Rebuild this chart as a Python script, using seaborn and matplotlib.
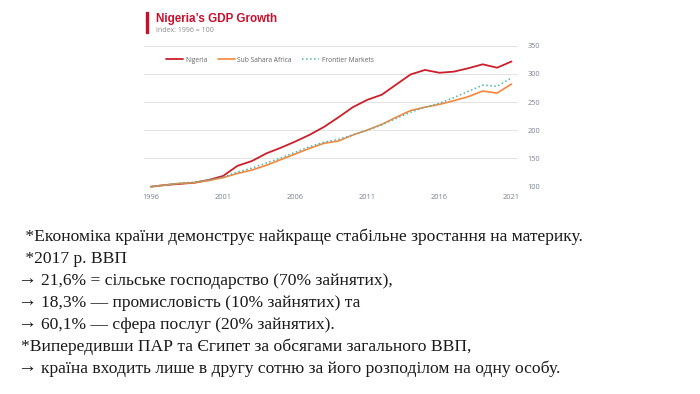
import numpy as np
import pandas as pd
import matplotlib
matplotlib.use("Agg")
import matplotlib.pyplot as plt
import seaborn as sns
from matplotlib.lines import Line2D
from matplotlib.patches import Rectangle

years = list(range(1996, 2022))
nigeria = [100, 103, 105, 107, 112, 119, 137, 145.5, 159, 169, 180, 192, 206, 223, 241,
           254, 263, 281, 299, 307, 302, 304, 310, 317, 311, 322]
ssa = [100, 103, 106, 107, 111, 116, 123.6, 129.5, 138, 148, 158, 168, 177, 181, 191.6,
       200.5, 210.5, 223, 235, 241, 246, 252.5, 259.6, 269.6, 266, 282]
frontier = [100, 103, 106, 108, 112, 117, 126, 133, 142, 151, 161, 171, 179, 184, 192,
            200, 209.5, 221, 232, 241, 248, 258, 269, 280, 278, 293]
series_names = ["Nigeria", "Sub Sahara Africa", "Frontier Markets"]
yticks = [100, 150, 200, 250, 300, 350]
xticks = [1996, 2001, 2006, 2011, 2016, 2021]

title = "Nigeria’s GDP Growth"
subtitle = "Index: 1996 = 100"
body_lines = [
    " *Економіка країни демонструє найкраще стабільне зростання на материку.",
    " *2017 р. ВВП",
    "→ 21,6% = сільське господарство (70% зайнятих),",
    "→ 18,3% — промисловість (10% зайнятих) та",
    "→ 60,1% — сфера послуг (20% зайнятих).",
    "*Випередивши ПАР та Єгипет за обсягами загального ВВП,",
    "→ країна входить лише в другу сотню за його розподілом на одну особу.",
]

df = pd.DataFrame({
    "year": years * 3,
    "value": nigeria + ssa + frontier,
    "series": [series_names[0]] * len(years) + [series_names[1]] * len(years) + [series_names[2]] * len(years),
})

sns.set_theme(style="white")
plt.rcParams["font.family"] = ["Open Sans", "DejaVu Sans"]

W, H = 700, 394
fig = plt.figure(figsize=(7.0, 3.94), dpi=100)
fig.patch.set_facecolor("white")

ax = fig.add_axes([144 / W, 1 - 186.7 / H, 374 / W, 141 / H])
ax.set_facecolor("white")

colors = {"Nigeria": "#cc1f2b", "Sub Sahara Africa": "#f5873a", "Frontier Markets": "#4db6ac"}
styles = {"Nigeria": "-", "Sub Sahara Africa": "-", "Frontier Markets": ":"}
widths = {"Nigeria": 1.3, "Sub Sahara Africa": 1.2, "Frontier Markets": 1.1}

for name in series_names:
    sub = df[df["series"] == name]
    sns.lineplot(data=sub, x="year", y="value", ax=ax, color=colors[name],
                 linestyle=styles[name], linewidth=widths[name], legend=False,
                 clip_on=False, zorder=3)

ax.set_xlim(1995.52, 2021.45)
ax.set_ylim(100, 350)
ax.set_yticks(yticks)
ax.set_xticks(xticks)
ax.yaxis.tick_right()
ax.grid(axis="y", color="#e3e3e3", linewidth=0.7)
ax.grid(axis="x", visible=False)
for s in ax.spines.values():
    s.set_visible(False)
ax.tick_params(axis="both", length=0, labelsize=5.3, labelcolor="#7a8494")
ax.tick_params(axis="y", pad=7)
ax.tick_params(axis="x", pad=5.5)
ax.set_xlabel("")
ax.set_ylabel("")

handles = [Line2D([0], [0], color=colors[n], linestyle=styles[n], linewidth=widths[n]) for n in series_names]
leg = ax.legend(handles, series_names, loc="center left", bbox_to_anchor=(21.5 / 374, (186.7 - 60) / 141),
                ncol=3, frameon=False, fontsize=4.8, handlelength=2.55, handletextpad=0.42,
                columnspacing=1.5, borderaxespad=0, borderpad=0)
for t in leg.get_texts():
    t.set_color("#666666")

# title block
fig.patches.append(Rectangle((145.5 / W, 1 - 33 / H), 2.2 / W, 21 / H, transform=fig.transFigure,
                             color="#c8102e", zorder=5))
fig.text(156 / W, 1 - 19 / H, title, fontsize=8.4, fontweight="bold", color="#c8102e",
         family=["Liberation Sans", "DejaVu Sans"], va="center", ha="left")
fig.text(156 / W, 1 - 31 / H, subtitle, fontsize=5.0, color="#8a8a8a", va="center", ha="left")

# body text (baseline aligned)
serif = ["Liberation Serif", "DejaVu Serif"]
b0 = 240.6
for i, line in enumerate(body_lines):
    yb = 1 - (b0 + i * 22.0) / H
    if line.startswith("→"):
        fig.text(17.5 / W, yb, "→", fontsize=13.8, color="#1a1a1a",
                 family=serif, va="baseline", ha="left")
        fig.text(41 / W, yb, line[2:], fontsize=12.6, color="#1a1a1a",
                 family=serif, va="baseline", ha="left")
    else:
        fig.text(21 / W, yb, line, fontsize=12.6, color="#1a1a1a",
                 family=serif, va="baseline", ha="left")

fig.savefig("out.png", dpi=100, facecolor="white")
